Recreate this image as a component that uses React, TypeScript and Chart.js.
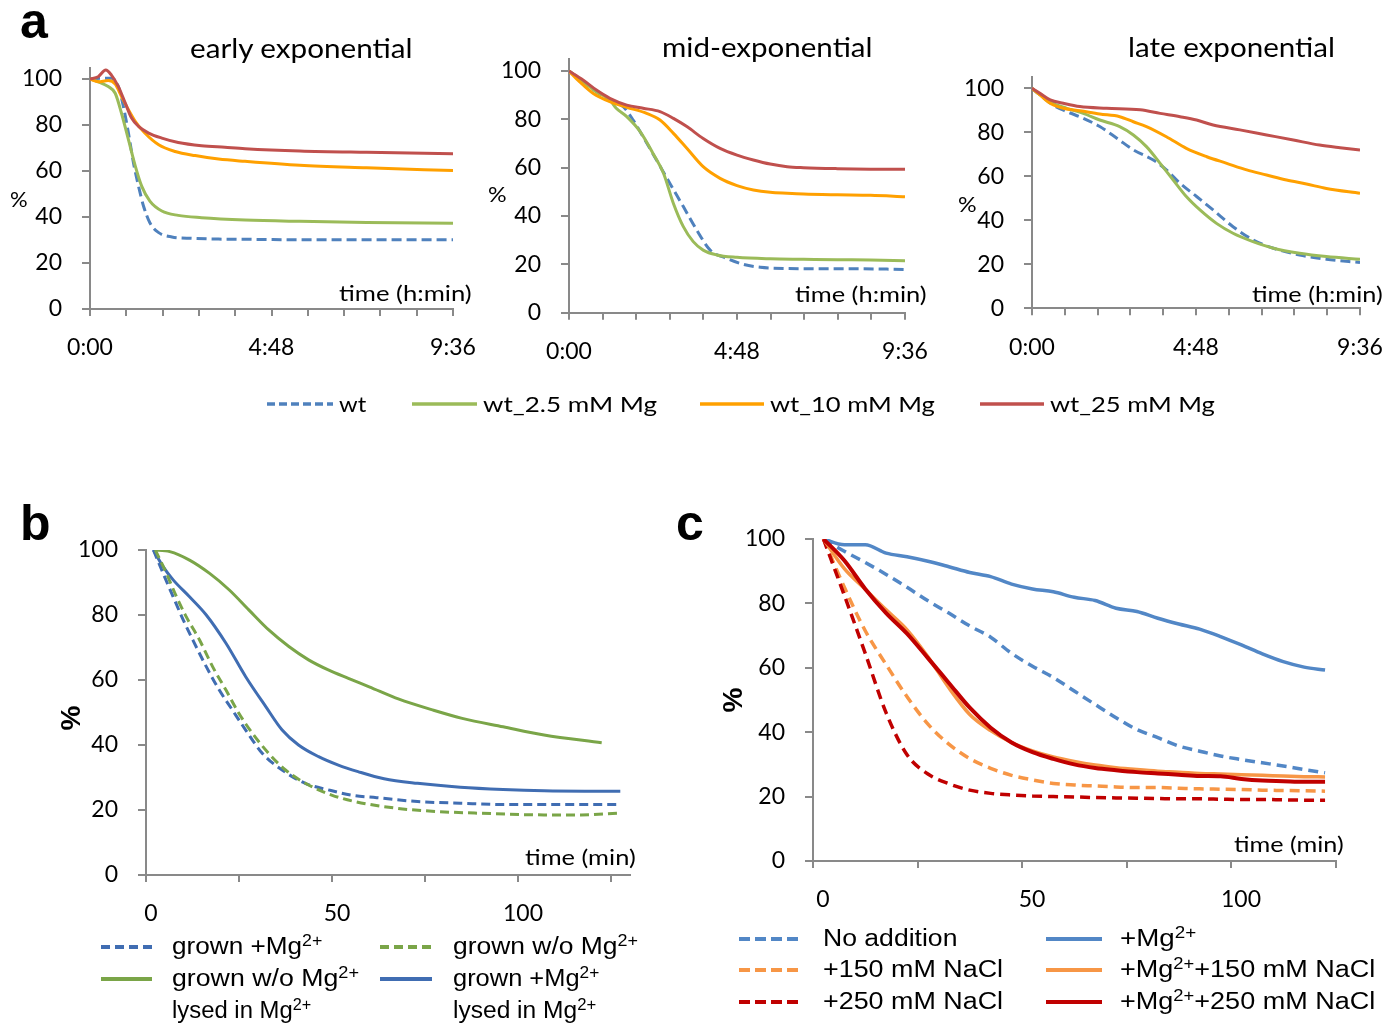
import React, { useEffect, useLayoutEffect, useRef } from "react";
import { Chart, registerables } from "chart.js";
Chart.register(...registerables);

// ---------------- data ----------------
const A_XTICKS = [0, 57.6, 115.2, 172.8, 230.4, 288, 345.6, 403.2, 460.8, 518.4, 576];
const A_XLABEL_AT = [0, 288, 576];
const A_XLABELS = ["0:00", "4:48", "9:36"];
const Y_TICKS = [0, 20, 40, 60, 80, 100];
const A_TITLES = ["early exponential", "mid-exponential", "late exponential"];
const A_SERIES = ["wt", "wt_2.5 mM Mg", "wt_10 mM Mg", "wt_25 mM Mg"];

// early exponential
const A1_WT_X = [0, 18, 34, 45, 53, 61, 69, 77, 85, 95, 109, 130, 162, 204, 246, 333, 439, 576];
const A1_WT_Y = [100, 100.3, 100.3, 96.7, 88, 76.5, 63.5, 53.4, 44.7, 37.5, 33.2, 31.3, 30.7, 30.4, 30.3, 30.1, 30.1, 30.1];
const A1_G_X = [0, 13, 29, 40, 50, 61, 72, 82, 95, 114, 140, 177, 246, 333, 439, 576];
const A1_G_Y = [100, 98.8, 96.7, 93.8, 85.1, 73.6, 62, 53.4, 46.9, 42.6, 40.7, 39.7, 38.7, 38.1, 37.6, 37.3];
const A1_O_X = [0, 13, 29, 40, 50, 61, 72, 87, 109, 135, 167, 204, 246, 333, 439, 576];
const A1_O_Y = [100, 98.8, 99.3, 97.8, 92.4, 86.6, 81.5, 76.5, 71.4, 68.5, 66.7, 65.2, 64.2, 62.5, 61.4, 60.2];
const A1_R_X = [0, 13, 25, 34, 45, 56, 66, 77, 93, 114, 140, 177, 214, 246, 333, 439, 576];
const A1_R_Y = [100, 101, 103.9, 101.7, 96.7, 89.5, 83, 79.4, 76.5, 74.3, 72.4, 71, 70.3, 69.7, 68.7, 68.1, 67.5];

// mid-exponential
const A2_WT_X = [0, 24, 47, 70, 93, 110, 127, 150, 173, 196, 219, 242, 270, 299, 328, 374, 431, 488, 576];
const A2_WT_Y = [100, 95.6, 91.4, 88, 85.2, 79.7, 72.8, 63.2, 53.5, 43.9, 34.2, 25.9, 22.5, 20, 18.8, 18.3, 18.2, 18.2, 17.9];
const A2_G_X = [0, 24, 47, 70, 81, 99, 122, 144, 162, 179, 196, 213, 230, 253, 288, 345, 402, 460, 517, 576];
const A2_G_Y = [100, 95.6, 91.4, 88, 84.6, 81.1, 74.9, 65.9, 57.7, 45.2, 35.6, 29.4, 25.9, 23.9, 22.9, 22.3, 22.1, 21.9, 21.8, 21.5];
const A2_O_X = [0, 18, 41, 70, 99, 133, 156, 179, 202, 230, 259, 288, 316, 345, 374, 402, 460, 517, 576];
const A2_O_Y = [100, 95.6, 90.8, 87.3, 85, 82.5, 79.7, 74.2, 68, 60.4, 55.6, 52.6, 50.8, 49.8, 49.4, 49.1, 48.8, 48.6, 48];
const A2_R_X = [0, 24, 47, 70, 99, 127, 156, 179, 202, 230, 259, 288, 316, 345, 374, 402, 460, 517, 576];
const A2_R_Y = [100, 96.3, 92.1, 88.7, 85.9, 84.6, 83.2, 80.4, 77, 72.1, 68, 65.2, 63.2, 61.5, 60.4, 60, 59.6, 59.4, 59.3];

// late exponential
const A3_WT_X = [0, 14, 37, 61, 90, 119, 149, 178, 213, 236, 260, 289, 318, 353, 388, 424, 470, 517, 576];
const A3_WT_Y = [100, 97, 92.4, 89.4, 86.4, 82.6, 77.3, 72, 67.4, 62.9, 56.8, 50.8, 44.7, 37.1, 31.1, 27.3, 24.2, 22.3, 20.8];
const A3_G_X = [0, 14, 37, 61, 90, 119, 154, 178, 201, 225, 248, 271, 295, 324, 353, 388, 424, 470, 517, 576];
const A3_G_Y = [100, 97, 93.2, 90.9, 88.6, 85.6, 82.6, 78.8, 73.5, 65.9, 58.3, 50.8, 44.7, 38.6, 34.1, 30.3, 27.3, 25, 23.5, 22.3];
const A3_O_X = [0, 14, 32, 55, 84, 119, 154, 178, 201, 236, 271, 307, 342, 377, 412, 447, 482, 517, 576];
const A3_O_Y = [100, 97, 93.2, 90.9, 89.8, 88.3, 87.1, 84.8, 82.6, 78, 72.7, 68.9, 65.9, 62.9, 60.6, 58.3, 56.5, 54.5, 52.3];
const A3_R_X = [0, 14, 32, 55, 84, 131, 190, 225, 260, 289, 318, 365, 412, 459, 505, 541, 576];
const A3_R_Y = [100, 97.7, 94.7, 93.2, 91.7, 90.9, 90.2, 88.6, 87.1, 85.6, 83.3, 81.1, 78.8, 76.5, 74.2, 73, 72];

// panel b
const B_XTICKS = [0, 25, 50, 75, 100, 125];
const B_XLABEL_AT = [0, 50, 100];
const B_XLABELS = ["0", "50", "100"];
const B_MG_X = [2, 4.6, 7.3, 10, 12.6, 16.2, 19.7, 23.2, 26.8, 31.3, 36.6, 42.8, 49, 55.5, 62, 73, 84.5, 96, 107, 127];
const B_MG_Y = [100, 92.8, 85.6, 78.5, 72.3, 64.1, 56.9, 50.8, 44.6, 37.4, 32.3, 28.2, 26.2, 24.5, 23.8, 22.6, 22.1, 21.7, 21.7, 21.7];
const B_NO_X = [2.5, 5.5, 8.2, 10.8, 14.4, 17.9, 21.5, 25, 28.6, 33, 37.5, 43.7, 49.9, 56.1, 67.6, 78.8, 90, 107, 117, 127];
const B_NO_Y = [100, 92.8, 85.6, 79.5, 72.3, 64.1, 56.9, 49.7, 43.6, 37.4, 32.3, 27.7, 24.6, 22.6, 20.5, 19.5, 19, 18.5, 18.5, 19];
const B_NOLYS_X = [2, 6.4, 11.7, 17.1, 22.4, 27.7, 33, 38.4, 43.7, 49, 54.4, 60, 68, 77, 85, 96, 107, 122.5];
const B_NOLYS_Y = [100, 99.5, 96.9, 92.8, 87.7, 81.5, 75.4, 70.3, 66.2, 63.1, 60.5, 57.9, 54.1, 50.8, 48.2, 45.6, 43.1, 40.7];
const B_MGLYS_X = [2, 4.6, 7.3, 11.7, 16.2, 21.5, 26.8, 32.2, 36.6, 41, 46.4, 51.7, 57, 64, 73, 84.5, 96, 107, 118, 127.5];
const B_MGLYS_Y = [100, 94.9, 90.8, 85.6, 80, 71.3, 61, 51.8, 44.6, 40, 36.4, 33.8, 31.8, 29.6, 28.2, 27, 26.3, 25.9, 25.8, 25.8];

// panel c
const C_X = [2.5, 7.5, 12.5, 17.5, 22.5, 27.5, 32.5, 37.5, 42.5, 47.5, 52.5, 57.5, 62.5, 67.5, 72.5, 77.5, 82.5, 87.5, 92.5, 97.5, 102.5, 107.5, 112.5, 117.5, 122.5];
const C_NOADD = [100, 96.2, 92.7, 89, 85, 80.8, 77, 73, 69.5, 64.5, 60.5, 57, 52.8, 48.6, 44.5, 40.8, 38.3, 35.7, 34.1, 32.6, 31.5, 30.5, 29.5, 28.4, 27.4];
const C_NA150 = [100, 85, 71.5, 61, 51, 42.5, 36.3, 31.8, 28.8, 26.6, 25.2, 24.1, 23.6, 23.3, 23, 22.8, 22.8, 22.6, 22.4, 22.3, 22.2, 22, 21.9, 21.8, 21.7];
const C_NA250 = [100, 82.5, 64.5, 46, 33, 27, 24, 22, 21, 20.5, 20.2, 20, 19.9, 19.7, 19.6, 19.5, 19.4, 19.3, 19.3, 19.2, 19.1, 19.1, 19, 18.9, 18.9];
const C_MG = [100, 98.2, 98.2, 95.6, 94.5, 93.1, 91.4, 89.6, 88.3, 86, 84.5, 83.6, 81.9, 80.9, 78.5, 77.5, 75.4, 73.6, 72, 69.7, 67.1, 64.3, 61.9, 60.2, 59.3];
const C_MG150 = [100, 90.8, 84.4, 78, 71.8, 63.4, 53.8, 45.5, 40.5, 36.8, 34.2, 32.3, 30.9, 29.8, 29, 28.4, 27.9, 27.6, 27.2, 27, 26.8, 26.6, 26.4, 26.2, 26.1];
const C_MG250 = [100, 93.3, 84.5, 77, 70.6, 63, 55.3, 47.6, 41.4, 36.8, 33.8, 31.7, 30, 28.9, 28.2, 27.6, 27.2, 26.8, 26.4, 26.3, 25.5, 25, 24.8, 24.6, 24.6];

// ---------------- styles ----------------
const AXIS = "#898989";
const LATO = "Lato, 'Open Sans', sans-serif";
const ARIAL = "'Liberation Sans', Arial, sans-serif";
const A_BLUE = "#4F81BD", A_GREEN = "#9BBB59", A_ORANGE = "#FFA000", A_RED = "#C0504D";
const B_BLUE = "#406DB2", B_GREEN = "#7AA548";
const C_BLUE = "#5287C6", C_ORANGE = "#F79646", C_RED = "#C00000";

type Line = { x: number[]; y: number[]; color: string; width: number; dash?: number[]; order: number };
type Panel = {
  l: number; r: number; t: number; b: number;
  xMax: number; yMax: number;
  xTicks: number[]; labelAt: number[]; labels: string[];
  labelOffset: number; lines: Line[];
};

function PanelChart({ p }: { p: Panel }) {
  const ref = useRef<HTMLCanvasElement>(null);
  const cl = Math.floor(p.l - 80), ct = Math.floor(p.t - 42);
  const cw = Math.ceil(p.r + 62) - cl, ch = Math.ceil(p.b + 55) - ct;
  const padL = p.l - cl, padT = p.t - ct, padR = cl + cw - p.r, padB = ct + ch - p.b;
  useEffect(() => {
    const font = { family: "Lato", size: 23 };
    const grid = { display: true, drawOnChartArea: false, drawTicks: true, color: AXIS, lineWidth: 2 };
    const chart = new Chart(ref.current as HTMLCanvasElement, {
      type: "line",
      data: {
        datasets: p.lines.map((ln) => ({
          data: ln.x.map((x, i) => ({ x, y: ln.y[i] })),
          borderColor: ln.color,
          borderWidth: ln.width,
          borderDash: ln.dash || [],
          pointRadius: 0,
          fill: false,
          cubicInterpolationMode: "monotone",
          order: ln.order,
          borderJoinStyle: "round",
        })),
      },
      options: {
        animation: false,
        responsive: false,
        events: [],
        layout: { padding: { left: 0, top: padT, right: padR, bottom: 0 } },
        plugins: { legend: { display: false }, tooltip: { enabled: false }, title: { display: false } },
        scales: {
          x: {
            type: "linear", min: 0, max: p.xMax,
            afterFit: (s: any) => { s.height = padB; },
            afterBuildTicks: (s: any) => { s.ticks = p.xTicks.map((v) => ({ value: v })); },
            ticks: {
              autoSkip: false, maxRotation: 0, color: "#000", font, padding: 18,
              labelOffset: p.labelOffset,
              callback: (v: any) => {
                const i = p.labelAt.findIndex((a) => Math.abs(a - Number(v)) < 0.01);
                return i >= 0 ? p.labels[i] : "";
              },
            },
            grid: { ...grid, tickLength: 7 },
            border: { display: true, color: AXIS, width: 2 },
          },
          y: {
            type: "linear", min: 0, max: p.yMax,
            afterFit: (s: any) => { s.width = padL; },
            afterBuildTicks: (s: any) => { s.ticks = Y_TICKS.map((v) => ({ value: v })); },
            ticks: { autoSkip: false, color: "#000", font, padding: 20, callback: (v: any) => String(v) },
            grid: { ...grid, tickLength: 8 },
            border: { display: true, color: AXIS, width: 2 },
          },
        },
      } as any,
    });
    return () => chart.destroy();
  }, []);
  return <canvas ref={ref} width={cw} height={ch} style={{ position: "absolute", left: cl, top: ct, width: cw, height: ch }} />;
}

function T({ x, by, w, size, family, weight, children }: any) {
  const ref = useRef<HTMLDivElement>(null);
  useLayoutEffect(() => {
    const el = ref.current;
    if (!el || !w) return;
    const nat = el.offsetWidth;
    if (nat > 0) el.style.transform = `scaleX(${w / nat})`;
  }, []);
  const asc = family === LATO ? 0.987 : 0.9465;
  return (
    <div ref={ref} style={{
      position: "absolute", left: x, top: by - asc * size, fontFamily: family, fontSize: size,
      fontWeight: weight || "normal", lineHeight: `${1.2 * size}px`, whiteSpace: "nowrap",
      transformOrigin: "0 0", color: "#000",
    }}>{children}</div>
  );
}

const SUP: React.CSSProperties = { fontSize: "0.68em", position: "relative", top: "-0.5em", verticalAlign: "baseline", lineHeight: 0 };
const Mg2 = () => <>Mg<sup style={SUP}>2+</sup></>;

const PANELS: Panel[] = [
  {
    l: 90, r: 453, t: 309 - 105 * 2.3, b: 309, xMax: 576, yMax: 105,
    xTicks: A_XTICKS, labelAt: A_XLABEL_AT, labels: A_XLABELS, labelOffset: 0,
    lines: [
      { x: A1_WT_X, y: A1_WT_Y, color: A_BLUE, width: 3, dash: [10, 5], order: 3 },
      { x: A1_G_X, y: A1_G_Y, color: A_GREEN, width: 3, order: 2 },
      { x: A1_O_X, y: A1_O_Y, color: A_ORANGE, width: 3, order: 1 },
      { x: A1_R_X, y: A1_R_Y, color: A_RED, width: 3, order: 0 },
    ],
  },
  {
    l: 569, r: 905, t: 312.7 - 105 * 2.417, b: 312.7, xMax: 576, yMax: 105,
    xTicks: A_XTICKS, labelAt: A_XLABEL_AT, labels: A_XLABELS, labelOffset: 0,
    lines: [
      { x: A2_WT_X, y: A2_WT_Y, color: A_BLUE, width: 3, dash: [10, 5], order: 3 },
      { x: A2_G_X, y: A2_G_Y, color: A_GREEN, width: 3, order: 2 },
      { x: A2_O_X, y: A2_O_Y, color: A_ORANGE, width: 3, order: 1 },
      { x: A2_R_X, y: A2_R_Y, color: A_RED, width: 3, order: 0 },
    ],
  },
  {
    l: 1032, r: 1360, t: 308.3 - 105 * 2.2, b: 308.3, xMax: 576, yMax: 105,
    xTicks: A_XTICKS, labelAt: A_XLABEL_AT, labels: A_XLABELS, labelOffset: 0,
    lines: [
      { x: A3_WT_X, y: A3_WT_Y, color: A_BLUE, width: 3, dash: [10, 5], order: 3 },
      { x: A3_G_X, y: A3_G_Y, color: A_GREEN, width: 3, order: 2 },
      { x: A3_O_X, y: A3_O_Y, color: A_ORANGE, width: 3, order: 1 },
      { x: A3_R_X, y: A3_R_Y, color: A_RED, width: 3, order: 0 },
    ],
  },
  {
    l: 146, r: 146 + 130 * 3.72, t: 550, b: 875, xMax: 130, yMax: 100,
    xTicks: B_XTICKS, labelAt: B_XLABEL_AT, labels: B_XLABELS, labelOffset: 5,
    lines: [
      { x: B_MG_X, y: B_MG_Y, color: B_BLUE, width: 3, dash: [9, 5], order: 1 },
      { x: B_NO_X, y: B_NO_Y, color: B_GREEN, width: 3, dash: [9, 5], order: 0 },
      { x: B_NOLYS_X, y: B_NOLYS_Y, color: B_GREEN, width: 3, order: 2 },
      { x: B_MGLYS_X, y: B_MGLYS_Y, color: B_BLUE, width: 3, order: 3 },
    ],
  },
  {
    l: 813, r: 813 + 125 * 4.18, t: 539, b: 861, xMax: 125, yMax: 100,
    xTicks: B_XTICKS, labelAt: B_XLABEL_AT, labels: B_XLABELS, labelOffset: 10,
    lines: [
      { x: C_X, y: C_NOADD, color: C_BLUE, width: 3.5, dash: [10, 6], order: 5 },
      { x: C_X, y: C_NA150, color: C_ORANGE, width: 3.5, dash: [10, 6], order: 4 },
      { x: C_X, y: C_NA250, color: C_RED, width: 3.5, dash: [10, 6], order: 3 },
      { x: C_X, y: C_MG, color: C_BLUE, width: 3.5, order: 2 },
      { x: C_X, y: C_MG150, color: C_ORANGE, width: 3.5, order: 1 },
      { x: C_X, y: C_MG250, color: C_RED, width: 4, order: 0 },
    ],
  },
];

function Sample({ x1, x2, y, color, dash, w }: any) {
  return <line x1={x1} x2={x2} y1={y} y2={y} stroke={color} strokeWidth={w} strokeDasharray={dash} />;
}

export default function App() {
  return (
    <div style={{ position: "absolute", left: 0, top: 0, width: 1393, height: 1026, background: "#fff", overflow: "hidden" }}>
      {PANELS.map((p, i) => <PanelChart key={i} p={p} />)}

      <svg width={1393} height={1026} style={{ position: "absolute", left: 0, top: 0 }}>
        <Sample x1={267} x2={333} y={404} color={A_BLUE} w={3.5} dash="8 4" />
        <Sample x1={412} x2={477} y={404} color={A_GREEN} w={3.5} />
        <Sample x1={700} x2={764} y={404} color={A_ORANGE} w={3.5} />
        <Sample x1={980} x2={1044} y={404} color={A_RED} w={3.5} />

        <Sample x1={101} x2={152} y={947} color={B_BLUE} w={4} dash="9 5" />
        <Sample x1={380} x2={432} y={947} color={B_GREEN} w={4} dash="9 5" />
        <Sample x1={101} x2={152} y={979} color={B_GREEN} w={4} />
        <Sample x1={380} x2={432} y={979} color={B_BLUE} w={4} />

        <Sample x1={739} x2={800} y={939} color={C_BLUE} w={4} dash="11 5" />
        <Sample x1={739} x2={800} y={970} color={C_ORANGE} w={4} dash="11 5" />
        <Sample x1={739} x2={800} y={1002} color={C_RED} w={4} dash="11 5" />
        <Sample x1={1046} x2={1102} y={939} color={C_BLUE} w={4} />
        <Sample x1={1046} x2={1102} y={970} color={C_ORANGE} w={4} />
        <Sample x1={1046} x2={1102} y={1002} color={C_RED} w={4} />
      </svg>

      {/* panel letters */}
      <T x={20} by={38} size={50} family={ARIAL} weight="bold">a</T>
      <T x={20} by={540} size={50} family={ARIAL} weight="bold">b</T>
      <T x={676} by={540} size={50} family={ARIAL} weight="bold">c</T>

      {/* panel a titles */}
      <T x={190} by={59} w={223} size={27} family={LATO}>{A_TITLES[0]}</T>
      <T x={662} by={58} w={210} size={27} family={LATO}>{A_TITLES[1]}</T>
      <T x={1128} by={58} w={207} size={27} family={LATO}>{A_TITLES[2]}</T>

      <T x={10} by={208} w={18} size={22} family={LATO}>%</T>
      <T x={488} by={203} w={19} size={22} family={LATO}>%</T>
      <T x={958} by={213} w={19} size={22} family={LATO}>%</T>

      <T x={339} by={302} w={133} size={22} family={LATO}>time (h:min)</T>
      <T x={795} by={303} w={132} size={22} family={LATO}>time (h:min)</T>
      <T x={1252} by={303} w={131} size={22} family={LATO}>time (h:min)</T>

      {/* legend a */}
      <T x={339} by={413} w={27} size={22} family={LATO}>{A_SERIES[0]}</T>
      <T x={483} by={413} w={174} size={22} family={LATO}>{A_SERIES[1]}</T>
      <T x={770} by={413} w={165} size={22} family={LATO}>{A_SERIES[2]}</T>
      <T x={1050} by={413} w={165} size={22} family={LATO}>{A_SERIES[3]}</T>

      {/* panel b */}
      <div style={{ position: "absolute", left: 71, top: 718, transform: "translate(-50%,-50%) rotate(-90deg)", fontFamily: ARIAL, fontWeight: "bold", fontSize: 28, lineHeight: 1 }}>%</div>
      <T x={525} by={866} w={111} size={22} family={LATO}>time (min)</T>
      <T x={172} by={955} w={150} size={23} family={ARIAL}>grown +<Mg2 /></T>
      <T x={453} by={955} w={185} size={23} family={ARIAL}>grown w/o <Mg2 /></T>
      <T x={172} by={987} w={187} size={23} family={ARIAL}>grown w/o <Mg2 /></T>
      <T x={453} by={987} w={146} size={23} family={ARIAL}>grown +<Mg2 /></T>
      <T x={172} by={1019} w={139} size={23} family={ARIAL}>lysed in <Mg2 /></T>
      <T x={453} by={1019} w={143} size={23} family={ARIAL}>lysed in <Mg2 /></T>

      {/* panel c */}
      <div style={{ position: "absolute", left: 733, top: 700, transform: "translate(-50%,-50%) rotate(-90deg)", fontFamily: ARIAL, fontWeight: "bold", fontSize: 28, lineHeight: 1 }}>%</div>
      <T x={1234} by={853} w={110} size={22} family={LATO}>time (min)</T>
      <T x={823} by={947} w={134} size={23} family={ARIAL}>No addition</T>
      <T x={823} by={978} w={180} size={23} family={ARIAL}>+150 mM NaCl</T>
      <T x={823} by={1010} w={180} size={23} family={ARIAL}>+250 mM NaCl</T>
      <T x={1120} by={947} w={76} size={23} family={ARIAL}>+<Mg2 /></T>
      <T x={1120} by={978} w={255} size={23} family={ARIAL}>+<Mg2 />+150 mM NaCl</T>
      <T x={1120} by={1010} w={255} size={23} family={ARIAL}>+<Mg2 />+250 mM NaCl</T>
    </div>
  );
}
